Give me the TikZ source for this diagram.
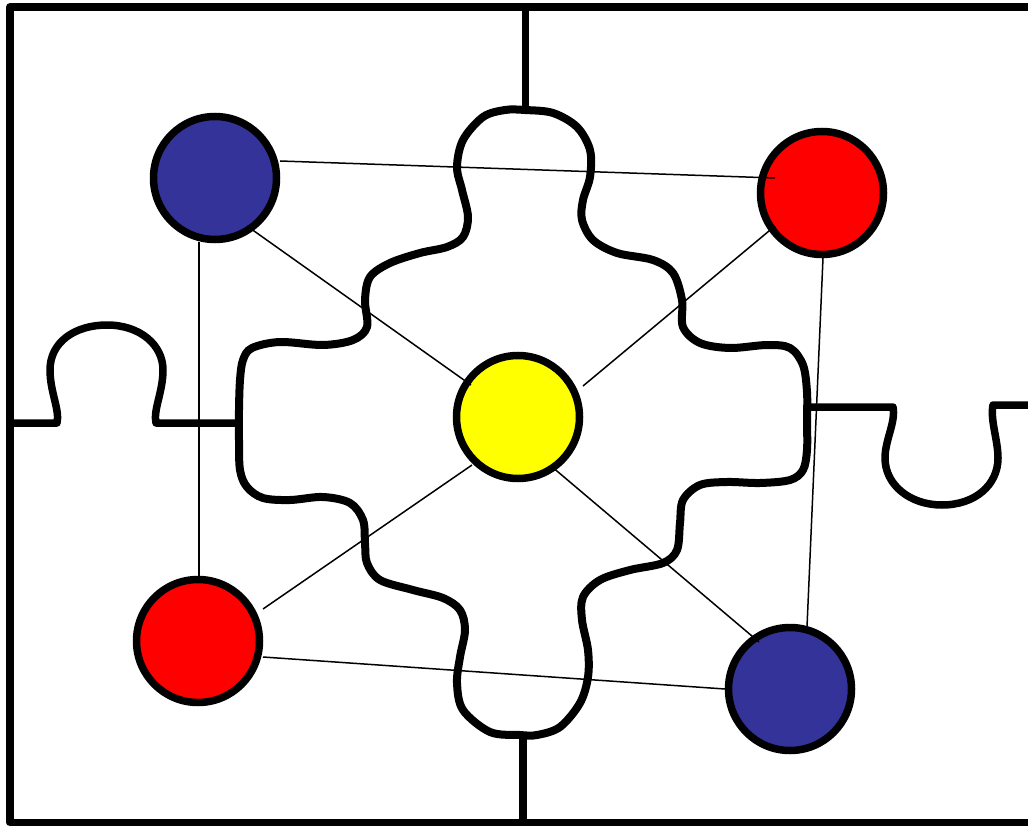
\documentclass[tikz,border=0pt]{standalone}
\usetikzlibrary{calc}
\definecolor{dotblue}{RGB}{51,51,153}
\definecolor{dotred}{RGB}{255,0,0}
\definecolor{dotyellow}{RGB}{255,255,0}
\begin{document}
\begin{tikzpicture}[x=1pt,y=-1pt,
  frame/.style={line width=7.5pt, line join=round},
  puzzle/.style={line width=8pt, line join=round},
  dot/.style={circle, draw=black, line width=7.5pt, minimum size=123pt, inner sep=0pt},
  link/.style={line width=1.5pt}]
\fill[white] (0,0) rectangle (1028,826);
\useasboundingbox (0,0) rectangle (1028,826);
\clip (0,0) rectangle (1028,826);
% outer frame
\draw[frame] (1040,7) -- (10,7) -- (10,822.5) -- (1040,822.5);
% stubs
\draw[frame] (525.5,7) -- (525.5,112);
\draw[frame] (523,733) -- (523,822.5);
% left tab
\draw[frame] (10,423) -- (57,423) .. controls (60,410) and (50,392) .. (50,370)
  .. controls (50,342) and (75,325) .. (107,325)
  .. controls (140,325) and (163,345) .. (163,370)
  .. controls (163,392) and (153,410) .. (156,423) -- (241,423);
% right tab
\draw[frame] (806,407) -- (893,407) .. controls (896,422) and (885,440) .. (885,458)
  .. controls (885,485) and (910,505) .. (942,505)
  .. controls (975,505) and (998,485) .. (998,458)
  .. controls (998,440) and (990,420) .. (993,405) -- (1040,405);
% centre piece
\draw[puzzle] plot[smooth cycle, tension=0.55] coordinates {
(525,110) (553,113) (577,127) (590,150) (590,177) (583,200) (582,220) (593,240)
(617,253) (653,260) (673,273) (682,300) (683,327) (700,343) (730,348) (767,345)
(790,348) (803,365) (807,392) (807,420) (807,450) (803,470) (790,480) (760,483)
(727,482) (700,485) (683,500) (680,523) (677,550) (663,563) (630,570) (600,580)
(583,597) (582,620) (588,650) (588,677) (580,703) (560,727) (537,735) (520,735)
(490,732) (463,710) (457,683) (460,657) (465,630) (460,610) (443,598) (413,590)
(380,580) (367,563) (365,543) (363,520) (350,503) (323,497) (290,500) (263,498)
(247,487) (240,470) (239,440) (239,410) (240,380) (243,360) (252,348) (280,342)
(323,345) (353,340) (367,327) (365,300) (370,277) (390,263) (420,253) (447,247)
(463,237) (468,217) (462,190) (457,167) (463,140) (483,117) (505,110)};
% circles
\node[dot, fill=dotblue] (b1) at (215,178) {};
\node[dot, fill=dotred] (r1) at (822,193) {};
\node[dot, fill=dotyellow] (y0) at (518,417) {};
\node[dot, fill=dotred] (r2) at (198,641) {};
\node[dot, fill=dotblue] (b2) at (790,689) {};
% links
\draw[link] ([shift={(65,-17)}]b1.center) -- ([shift={(-47,-15)}]r1.center);
\draw[link] ([shift={(32,48)}]b1.center) -- ([shift={(-47,-32)}]y0.center);
\draw[link] ([shift={(-16,64)}]b1.center) -- ([shift={(1,-64)}]r2.center);
\draw[link] ([shift={(-47,33)}]r1.center) -- ([shift={(65,-31)}]y0.center);
\draw[link] ([shift={(1,65)}]r1.center) -- ([shift={(17,-62)}]b2.center);
\draw[link] ([shift={(-46,48)}]y0.center) -- ([shift={(65,-32)}]r2.center);
\draw[link] ([shift={(33,49)}]y0.center) -- ([shift={(-31,-47)}]b2.center);
\draw[link] ([shift={(65,16)}]r2.center) -- ([shift={(-65,0)}]b2.center);
\end{tikzpicture}
\end{document}
